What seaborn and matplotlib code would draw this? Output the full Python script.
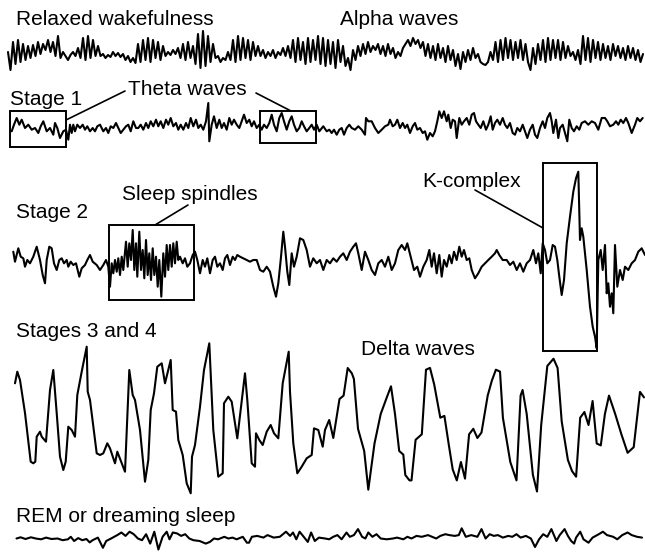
import numpy as np
import pandas as pd
import matplotlib
matplotlib.use("Agg")
import matplotlib.pyplot as plt
import seaborn as sns
from matplotlib.patches import Rectangle

# ---------------- data (pixel units) ----------------
alpha_start = 8.0
alpha_step = 2.5
alpha_y = [52,70,42,64,40,62,44,60,46,
           58,45,56,42,54,44,50,40,52,42,
           56,36,58,
           52,56,60,55,52,56,48,
           58,38,60,36,58,40,56,46,
           56,54,58,55,57,52,56,53,57,54,60,56,
           62,58,63,
           44,62,40,60,38,62,40,58,42,60,46,
           56,52,55,50,54,48,
           58,44,60,42,58,46,
           64,34,68,31,66,36,62,44,
           58,56,62,58,60,52,
           60,40,62,36,60,38,58,40,60,42,56,46,
           56,50,58,52,56,50,58,52,55,48,56,46,
           58,40,62,38,60,42,64,38,62,40,60,36,64,38,66,40,64,42,68,40,62,46,
           66,58,70,
           50,60,46,56,44,54,42,52,46,50,44,54,46,56,44,54,48,58,
           52,56,48,44,40,46,38,44,40,
           48,42,56,44,58,46,60,44,58,48,62,46,60,50,66,54,
           69,
           52,62,50,60,48,58,54,
           62,64,65,62,
           52,60,42,62,40,60,38,58,40,60,42,58,40,60,44,62,
           70,
           48,64,44,60,40,62,38,60,40,58,40,60,42,58,46,
           56,52,60,50,
           64,36,60,38,62,40,58,42,
           60,44,58,46,60,44,56,46,58,48,60,46,58,48,60,50,62,54]

stage1_pts = [(11.7,131.3),(14,124.7),(16.7,118),(19.3,124.7),(21.7,119.7),(25,128),(28.3,124.7),(31.7,129.7),
    (35,128),(38.3,133),(40.7,126.3),(43.3,121.3),(46.7,131.3),(50,128),(53.3,134.7),(55,123),(57.3,128),(60,138),
    (63.3,131.3),(66,129.7),(68.3,139.7),(70,124.7),(71.7,133),(73.3,124.7),(75,131.3),(77.3,124.7),(80,128),
    (82.7,124.7),(85,129.7),(87.3,126.3),(90,131.3),(92.7,128),(95,131.3),(97.3,126.3),(100,124.7),(103.3,131.3),
    (106,128),(108.3,133),(110.7,126.3),(113.3,128),(116,123),(118.3,128),(120.7,133),(123.3,129.7),(126,126.3),
    (128.3,124.7),(130.7,131.3),(133.3,121.3),(136,128),(138.3,128),(140.7,124.7),(143.3,129.7),(146,123),
    (148.3,128),(150.7,121.3),(153.3,126.3),(156,119.7),(158.3,126.3),(160.7,121.3),(163.3,128),(166,119.7),
    (168.3,124.7),(170.7,118),(173.3,126.3),(176,123),(178.3,129.7),(180.7,124.7),(183.3,129.7),(186,123),
    (188.3,128),(190.7,118),(193.3,126.3),(196,119.7),(198.3,128),(200.7,124.7),(203.3,129.7),(206,121.3),
    (208.3,103),(209.3,141.3),(211.7,124.7),(214,116.3),(216.7,128),(219.3,119.7),(221.7,128),(224,123),
    (226.7,129.7),(229.3,118),(231.7,124.7),(234,119.7),(236.7,124.7),(239.3,128),(241.7,121.3),(244,114.7),
    (246.7,123),(249.3,119.7),(251.7,126.3),(254,121.3),(256.7,128),(259.3,124.7),(261.7,129.7),(264,124.7),
    (266.7,128),(269.3,123),(271.7,114.7),(274,124.7),(276.7,131.3),(279.3,118),(281.7,113),(284,121.3),
    (286.7,129.7),(289.3,121.3),(291.7,116.3),(294,124.7),(296.7,131.3),(299.3,128),(301.7,121.3),(304,126.3),
    (306.7,131.3),(309.3,128),(311.7,124.7),(314,129.7),(316.7,124.7),(319.3,131.3),(323.3,126.3),(326.7,131.3),
    (329.3,129.7),(331.7,133),(334,129.7),(336.7,134.7),(339.3,129.7),(341.7,128),(344,134.7),(346.7,128),
    (349.3,124.7),(351.7,128),(355,129.7),(358.3,126.3),(361.7,129.7),(365,134.7),(366,118),(368.3,121.3),
    (371.7,121.3),(375,128),(378.3,133),(381.7,129.7),(385,126.3),(388.3,124.7),(390,119.7),(392.7,126.3),
    (395,124.7),(397.3,119.7),(400,128),(402.7,123),(405,128),(407.3,124.7),(410,133),(412.7,126.3),(415,123),
    (417.3,129.7),(420,128),(422.7,133),(425,131.3),(427.3,139.7),(430,133),(432.7,136.3),(435,131.3),
    (437.3,121.3),(439.3,111.3),(441.7,118),(444,111.3),(446.7,121.3),(448.3,114.7),(450.7,128),(452.7,119.7),
    (455,121.3),(456.7,138),(459.3,118),(461.7,124.7),(464,121.3),(466.7,118),(469.3,124.7),(471.7,114.7),
    (474,113),(476,121.3),(478.3,124.7),(480.7,128),(483.3,121.3),(486,129.7),(488.3,124.7),(490.7,116.3),
    (492.7,129.7),(495,123),(497.3,119.7),(500,124.7),(502.7,118),(505,124.7),(507.3,128),(510,123),
    (512.7,133),(515,134.7),(517.3,128),(520,131.3),(522.7,124.7),(525,131.3),(527.3,138),(530,129.7),
    (532.7,124.7),(535,134.7),(537.3,138),(540,128),(542.7,121.3),(545,128),(547.3,118),(550,113),
    (551.7,121.3),(553.3,133),(556,119.7),(558.3,138),(560,128),(562.7,124.7),(565,133),(567.3,141.3),
    (569.3,119.7),(571.7,128),(574,131.3),(576.7,126.3),(579.3,129.7),(581.7,123),(585,121.3),(588.3,124.7),
    (591.7,121.3),(595,123),(598.3,129.7),(601.7,118),(605,118),(607.3,121.3),(610,126.3),(613.3,124.7),
    (616,121.3),(618.3,124.7),(620.7,119.7),(623.3,123),(626,118),(628.3,123),(631.7,133),(635,124.7),
    (637.3,118),(640,121.3),(642.7,118)]

stage2_pts = [(13.3,251.7),(15,261.7),(18.3,248.3),(20.7,256.7),(23.3,258.3),(25,266.7),(27.3,260),(30,263.3),
    (33.3,256.7),(36.7,246.7),(40,260),(42.7,275),(45,283.3),(46.7,260),(49.3,246.7),(51.7,248.3),(54,263.3),
    (56.7,270),(59.3,260),(61.7,258.3),(64,263.3),(66.7,260),(68.3,266.7),(70.7,261.7),(73.3,265),(76,263.3),
    (79.3,276.7),(81.7,268.3),(85,265),(87.3,260),(90,255),(92.7,261.7),(96.7,265),(100,270),(103.3,265),
    (106,260),(108.3,266.7),(110,286.7),(111.7,263.3),(113.3,273.3),(115,260),(116.7,271.7),(118.3,258.3),
    (120,275),(121.7,256.7),(123.3,270),(126,241.7),(127.7,266.7),(129.3,243.3),(131,260),(132.7,230),
    (134.3,270),(136,243.3),(137.3,276.7),(139.3,231.7),(141,270),(142.7,250),(144.3,278.3),(146,240),
    (147.7,275),(149.3,253.3),(151,280),(152.7,248.3),(154.3,275),(156,256.7),(157.7,286.7),(159.3,260),
    (161.3,296.7),(163.3,253.3),(165,276.7),(166.7,245),(168.3,270),(170,245),(171.7,266.7),(173.3,243.3),
    (175,263.3),(176.7,241.7),(178.3,260),(180,256.7),(182.7,263.3),(185,258.3),(187.3,266.7),(190,263.3),
    (192.7,255),(195,251.7),(197.3,260),(200,273.3),(202.7,260),(205,266.7),(207.3,258.3),(210,273.3),
    (212.7,260),(215,256.7),(217.3,266.7),(220,263.3),(222.7,270),(225,258.3),(227.3,255),(230,265),
    (232.7,256.7),(235,260),(237.3,255),(240,256.7),(243.3,258.3),(246.7,260),(250,261.7),(253.3,260),
    (256.7,260),(260,270),(263.3,271.7),(266.7,266.7),(270,271.7),(273.3,286.7),(276,296.7),(278.3,283.3),
    (280.7,260),(283.3,231.7),(285,246.7),(287.3,271.7),(289.3,285),(291.7,253.3),(294,266.7),(296.7,256.7),
    (300,238.3),(303.3,240),(306.7,250),(310,266.7),(313.3,258.3),(316.7,263.3),(320,260),(323.3,270),
    (326.7,260),(330,263.3),(333.3,258.3),(336.7,261.7),(340,256.7),(343.3,253.3),(346.7,260),(350,251.7),
    (353.3,246.7),(356,243.3),(358.3,253.3),(361.7,270),(365,251.7),(368.3,260),(371.7,270),(375,275),
    (378.3,263.3),(381.7,260),(385,266.7),(388.3,256.7),(391.7,270),(395,263.3),(398.3,250),(401.7,245),
    (405,250),(407.3,243.3),(410.7,256.7),(414,270),(417.3,266.7),(420,276.7),(423.3,266.7),(426.7,260),
    (429.3,250),(431.7,266.7),(434,253.3),(436.7,273.3),(439.3,255),(441.7,276.7),(444,260),(446.7,266.7),
    (449.3,255),(451.7,263.3),(454,251.7),(456.7,260),(459.3,246.7),(461.7,256.7),(464,250),(466.7,260),
    (469.3,258.3),(471.7,270),(475,278.3),(478.3,273.3),(481.7,266.7),(485,263.3),(488.3,260),(491.7,256.7),
    (495,253.3),(496.7,250),(499.3,255),(502.7,260),(506.7,260),(510,265),(513.3,261.7),(516.7,270),
    (520,263.3),(523.3,271.7),(526.7,263.3),(530,260),(533.3,250),(536,263.3),(538.3,253.3),(540.7,273.3),
    (542.7,243.3),(545,250),(547.3,263.3),(550,260),(552.7,245),(555,246.7),(557.3,260),(559.3,276.7),
    (561.7,295),(564,280),(566.7,243.3),(570,216.7),(573.3,191.7),(576,178.3),(578.3,171.7),(580,240),
    (581.7,228.3),(583.3,236.7),(586.7,270),(590,306.7),(592.7,326.7),(595,336.7),(596.7,348.3),(598.3,260),
    (600.7,250),(602.7,270),(605,245),(606.7,293.3),(608.3,283.3),(610,306.7),(611.7,293.3),(613.3,313.3),
    (615,245),(617.3,286.7),(620,270),(622.7,280),(625,266.7),(628.3,270),(631.7,263.3),(635,260),
    (638.3,251.7),(641.7,248.3),(645,255)]

delta_pts = [(15,383.3),(17.3,371.7),(20,380),(25,413),(30.7,461.7),(33.3,463.3),(35.3,461.7),(36.7,436.7),
    (40,431.7),(41.7,436.7),(46,441.7),(50,390),(53.3,370),(56.7,413),(60,456.7),(63.3,470),(65.7,461.7),
    (68.3,426.7),(71.7,430),(75,436.7),(77.3,395),(81.7,371.7),(86.7,346.7),(87.7,391.7),(90,400),(96.7,453.3),
    (100,455),(103.3,453.3),(107.3,443.3),(110,448.3),(115,463.3),(117.3,451.7),(125,471.7),(129.3,370),
    (132.7,395),(135,400),(140,430),(145,481.7),(148.3,460),(150.7,410),(154,393.3),(157.3,366.7),(161.7,363.3),
    (165,383.3),(170.7,360),(172.7,410),(176,411.7),(178.3,440),(182.7,455),(186.7,483.3),(190.7,493.3),
    (192,456.7),(195,445),(200,406.7),(204,370),(209.3,343.3),(213.3,430),(218.3,476.7),(222.7,473.3),
    (224,403.3),(228.3,396.7),(231.7,401.7),(237.3,438.3),(245,373.3),(247.3,400),(251.7,463.3),(255,466.7),
    (256,433.3),(259.3,440),(262.7,445),(266.7,431.7),(270.7,425),(274,433.3),(278.3,438.3),(282.7,383.3),
    (288.7,351.7),(290,391.7),(293.3,443.3),(297.3,473.3),(301.7,466.7),(306.7,458.3),(311.7,455),(314,428.3),
    (318.3,430),(322.7,446.7),(325,430),(329.2,420),(333.3,438),(339.5,399),(343.6,395.6),(347.7,368),
    (351.9,373.4),(353.9,379),(358,428.8),(364.2,451),(368.3,489.7),(374.5,443.5),(380.7,414),(386.8,397.4),
    (391,386.3),(395,414),(399.2,451),(403.3,454.6),(405.3,475),(409.5,480.4),(411.5,480.4),(415.6,439.8),
    (421.8,434.3),(426,369.7),(430,367.9),(434.2,384.5),(440.3,417.7),(444.4,415.9),(448.6,443.5),(452.7,469.4),
    (456.8,480.4),(460.9,462),(465,478.6),(469.1,434.3),(473.3,428.8),(477.4,438),(481.5,432.5),(487.7,395.6),
    (491.8,380.8),(495.9,369.7),(500,371.6),(502.9,417.7),(510.3,462),(516.5,480.4),(520.6,395.6),(522.6,390),
    (526.7,414),(532.9,474.9),(537,491.5),(541.2,425),(547.3,366),(553.5,358.7),(557.6,368),(561.7,421.4),
    (567.9,460),(572,471),(576.1,476.7),(580.2,417.7),(584.4,412),(588.5,425),(592.6,401),(596.7,443.5),
    (600.8,445.4),(604.9,414),(609,395.6),(615.2,414),(621.4,434.3),(627.6,452.8),(633.7,447.2),(640,391.9),
    (644,397.4)]

rem_pts = [(16.5,538.5),(20.6,537.3),(25.5,539),(30.9,537.3),(36.2,538.6),(41.2,539.3),(46.1,537.6),(51.4,539),
    (57.6,538.5),(62.6,540.2),(67.9,539.3),(70.8,536.8),(74.1,541),(78.2,538.1),(82.3,540.2),(86.4,539),
    (89.7,542.4),(92.6,540.2),(97.9,537.6),(102.9,547.8),(106.2,541),(111.1,538.5),(117.3,535.1),(121.4,532.5),
    (125.5,535.9),(129.6,531.7),(133.7,534.2),(137.9,538.5),(142,540.2),(146.1,534.2),(150.2,543.6),(154.3,531.7),
    (158.4,549.5),(162.6,536.8),(166.7,531.7),(169.5,539.3),(172.8,532.5),(177,533.4),(181.1,535.9),(185.2,534.2),
    (189.3,538.5),(193.4,540.2),(199.6,541),(205.8,543.6),(209.9,541.9),(214,538.5),(218.1,539.3),(224.3,536.8),
    (228.4,538.5),(232.5,537.6),(236.6,539.3),(242.8,536.8),(246.9,542.7),(249,542.7),(251.9,536.8),(257.2,535.9),
    (263.4,537.6),(267.5,535.1),(273.7,537.6),(279.8,536.8),(286,531.7),(290.1,535.9),(293,532.5),(296.3,539.3),
    (299.6,531.7),(303.7,536.8),(307.8,541.9),(311.1,532.5),(314.8,541),(318.9,537.6),(325.1,538.5),(329.2,539.3),
    (333.3,536.8),(337.4,535.1),(341.6,539.3),(346.5,532.5),(349.8,536.8),(353.9,535.1),(358,529.1),(362.1,536.8),
    (365.4,538.5),(368.3,532.5),(372.4,536.8),(376.5,534.2),(380.7,538.5),(386.8,539.3),(393,538.5),(397.1,537.6),
    (403.3,539.3),(407.4,536.8),(411.5,538.5),(416.5,535.9),(421.8,536.8),(428,535.1),(432.1,536.8),(436.2,538.5),
    (440.3,535.9),(445.3,534.2),(449.4,535.1),(454.7,535.9),(458.8,535.1),(461.7,528.3),(465.8,536.8),(471.2,535.1),
    (477.4,536.8),(481.5,529.1),(485.6,538.5),(489.7,534.2),(493.8,535.9),(497.9,535.1),(502.9,537.6),(508.2,535.9),
    (512.3,536.8),(516.5,534.2),(520.6,537.6),(525.9,535.9),(530.9,538.5),(535,547),(539.1,539.3),(543.2,534.2),
    (547.3,536.8),(551.4,529.1),(556.4,541),(559.7,535.1),(564.6,529.1),(567.9,535.9),(571.2,541),(574.1,543.6),
    (576.1,537.6),(580.2,531.7),(583.5,539.3),(588.5,542.7),(592.6,537.6),(598.8,534.2),(602.9,531.7),(607,535.1),
    (613.2,536.8),(617.3,539.3),(622.2,535.1),(627.6,532.5),(631.7,535.1),(637,536.8),(642,537.6)]

# labels: (text, x, baseline y)
labels = [("Relaxed wakefulness", 16, 25), ("Alpha waves", 340, 25),
          ("Stage 1", 10, 105), ("Theta waves", 128, 95),
          ("Stage 2", 16, 218), ("Sleep spindles", 122, 200), ("K-complex", 422, 187),
          ("Stages 3 and 4", 16, 337), ("Delta waves", 361, 355),
          ("REM or dreaming sleep", 16, 522)]

# highlight boxes (x0, y0, x1, y1) and leader lines
boxes = [(10, 111, 66, 147), (260, 111, 316, 143), (109, 225, 194, 300), (543, 163, 597, 351)]
leaders = [((125, 91), (66, 120)), ((256, 93), (291, 111)),
           ((188, 205), (155, 225)), ((475, 190), (543, 228))]

# ---------------- drawing ----------------
sns.set_theme(style="white")
plt.rcParams["font.family"] = ["Liberation Sans", "DejaVu Sans"]

fig = plt.figure(figsize=(6.45, 5.58), dpi=100)
ax = fig.add_axes([0, 0, 1, 1])
ax.set_xlim(0, 645)
ax.set_ylim(558, 0)
ax.axis("off")

alpha_df = pd.DataFrame({"t": alpha_start + alpha_step * np.arange(len(alpha_y)), "v": alpha_y})
sns.lineplot(data=alpha_df, x="t", y="v", ax=ax, color="black", linewidth=1.5,
             sort=False, estimator=None)

for pts in (stage1_pts, stage2_pts, delta_pts, rem_pts):
    df = pd.DataFrame(pts, columns=["t", "v"])
    sns.lineplot(data=df, x="t", y="v", ax=ax, color="black", linewidth=1.5,
                 sort=False, estimator=None)

for (x0, y0, x1, y1) in boxes:
    ax.add_patch(Rectangle((x0, y0), x1 - x0, y1 - y0, fill=False,
                           edgecolor="black", linewidth=1.4))
for (p0, p1) in leaders:
    ax.plot([p0[0], p1[0]], [p0[1], p1[1]], color="black", linewidth=1.2)

for (txt, x, y) in labels:
    ax.text(x, y, txt, fontsize=15, ha="left", va="baseline", color="black")

ax.set_xlabel("")
ax.set_ylabel("")
fig.savefig("out.png", dpi=100, facecolor="white")
